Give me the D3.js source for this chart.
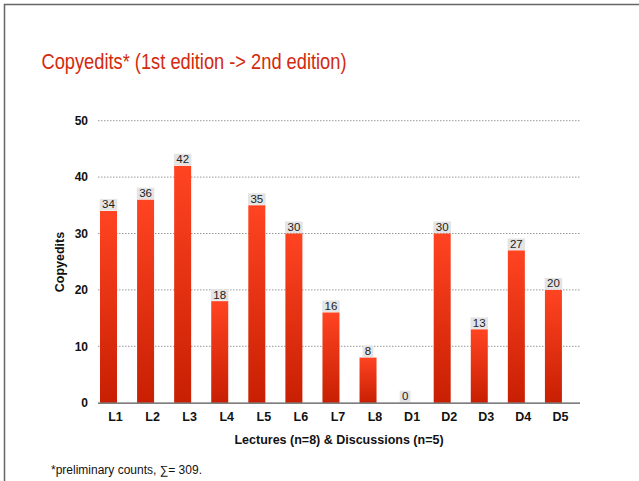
<!DOCTYPE html>
<html>
<head>
<meta charset="utf-8">
<script src="https://d3js.org/d3.v7.min.js"></script>
<style>
  body { margin: 0; background: #fff; }
  svg { display: block; font-family: "Liberation Sans", Arial, sans-serif; }
</style>
</head>
<body>
<svg id="mainSvg"></svg>
<script>
const categories = ['L1', 'L2', 'L3', 'L4', 'L5', 'L6', 'L7', 'L8', 'D1', 'D2', 'D3', 'D4', 'D5'];
const copyedits = [34, 36, 42, 18, 35, 30, 16, 8, 0, 30, 13, 27, 20];
const yTicks = [0, 10, 20, 30, 40, 50];

const width = 639;
const height = 481;

const svg = d3.select('#mainSvg')
  .attr('width', width)
  .attr('height', height);

// slide frame
svg.append('rect')
  .attr('x', 4.5)
  .attr('y', 4.5)
  .attr('width', 700)
  .attr('height', 600)
  .attr('fill', 'none')
  .attr('stroke', '#666')
  .attr('stroke-width', 1.5);

// title is a narrow Helvetica in the original, squeeze it to the same width
svg.append('text')
  .attr('x', 41.5)
  .attr('y', 68.5)
  .attr('textLength', 305)
  .attr('lengthAdjust', 'spacingAndGlyphs')
  .style('font-size', '21.5px')
  .style('fill', '#d42a0e')
  .text('Copyedits* (1st edition -> 2nd edition)');

const defs = svg.append('defs');
const grad = defs.append('linearGradient')
  .attr('id', 'barGrad')
  .attr('x1', 0).attr('y1', 0)
  .attr('x2', 0).attr('y2', 1);
grad.append('stop').attr('offset', '0%').attr('stop-color', '#ff4422');
grad.append('stop').attr('offset', '100%').attr('stop-color', '#c81f02');

const xScale = d3.scaleBand()
  .domain(categories)
  .range([98, 580]);

const yScale = d3.scaleLinear()
  .domain([0, 50])
  .range([402.7, 120.7]);

// dotted grid lines
svg.append('g')
  .selectAll('line')
  .data(yTicks.filter(d => d > 0))
  .enter()
  .append('line')
  .attr('x1', 98)
  .attr('x2', 580)
  .attr('y1', d => yScale(d))
  .attr('y2', d => yScale(d))
  .attr('stroke', '#999')
  .attr('stroke-width', 1)
  .attr('stroke-dasharray', '1.5,1.5');

// y tick labels
svg.append('g')
  .selectAll('text')
  .data(yTicks)
  .enter()
  .append('text')
  .attr('x', 88)
  .attr('y', d => yScale(d))
  .attr('dy', '0.35em')
  .style('text-anchor', 'end')
  .style('font-size', '12px')
  .style('font-weight', 'bold')
  .style('fill', '#111')
  .text(d => d);

const barW = 17;
const bars = svg.append('g')
  .selectAll('g')
  .data(categories.map((c, i) => ({ cat: c, value: copyedits[i] })))
  .enter()
  .append('g');

bars.append('rect')
  .attr('x', d => xScale(d.cat) + 2)
  .attr('width', barW)
  .attr('y', d => yScale(d.value))
  .attr('height', d => yScale(0) - yScale(d.value))
  .attr('fill', 'url(#barGrad)');

// value labels with light box
bars.append('rect')
  .attr('x', d => xScale(d.cat) + 2 + barW / 2 - (String(d.value).length * 3.4 + 2))
  .attr('width', d => String(d.value).length * 6.8 + 4)
  .attr('y', d => yScale(d.value) - 12)
  .attr('height', 11.5)
  .attr('fill', '#e4e4e4');

bars.append('text')
  .attr('x', d => xScale(d.cat) + 2 + barW / 2)
  .attr('y', d => yScale(d.value) - 2.5)
  .style('text-anchor', 'middle')
  .style('font-size', '11.5px')
  .style('fill', '#222')
  .text(d => d.value);

// baseline
svg.append('line')
  .attr('x1', 98)
  .attr('x2', 580)
  .attr('y1', yScale(0) + 0.5)
  .attr('y2', yScale(0) + 0.5)
  .attr('stroke', '#555')
  .attr('stroke-width', 1.3);

// x tick labels
svg.append('g')
  .selectAll('text')
  .data(categories)
  .enter()
  .append('text')
  .attr('x', d => xScale(d) + 17.5)
  .attr('y', 421)
  .style('text-anchor', 'middle')
  .style('font-size', '12.5px')
  .style('font-weight', 'bold')
  .style('fill', '#111')
  .text(d => d);

svg.append('text')
  .attr('x', 339)
  .attr('y', 444)
  .style('text-anchor', 'middle')
  .style('font-size', '12.5px')
  .style('font-weight', 'bold')
  .style('fill', '#111')
  .text('Lectures (n=8) & Discussions (n=5)');

svg.append('text')
  .attr('transform', 'rotate(-90)')
  .attr('x', -262)
  .attr('y', 64)
  .style('text-anchor', 'middle')
  .style('font-size', '12.5px')
  .style('font-weight', 'bold')
  .style('fill', '#111')
  .text('Copyedits');

svg.append('text')
  .attr('x', 51)
  .attr('y', 474)
  .style('font-size', '12px')
  .style('fill', '#111')
  .text('*preliminary counts, \u2211= 309.');
</script>
</body>
</html>
